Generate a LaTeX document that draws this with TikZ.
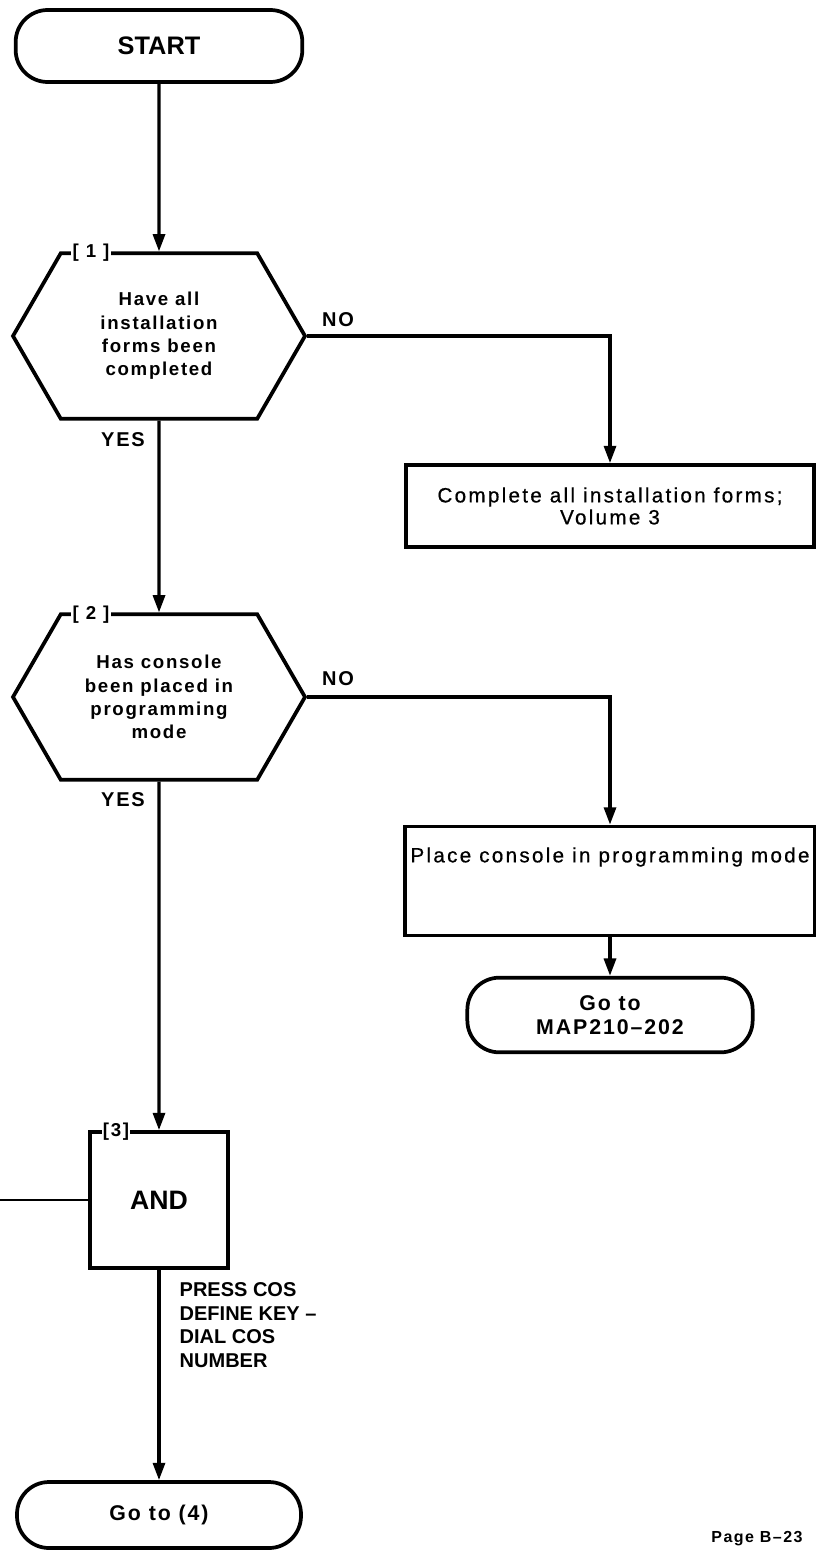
\documentclass[tikz,border=0pt]{standalone}
\usepackage{fontspec}
\setmainfont{Liberation Sans}
\newfontfamily\spaced{Liberation Sans}[LetterSpace=9]
\newfontfamily\plain{Liberation Sans}[LetterSpace=11,FakeBold=0.6]
\usetikzlibrary{arrows.meta,shapes.symbols}
\begin{document}
\begin{tikzpicture}[x=0.75pt,y=-0.75pt,
  term/.style={draw,line width=2.8pt,rounded corners=24pt,inner sep=0pt,align=center,font=\spaced\bfseries\fontsize{16}{18}\selectfont},
  hexa/.style={draw,line width=2.8pt,signal,signal to=east and west,signal pointer angle=120,minimum width=219pt,minimum height=124pt,inner sep=0pt,align=center,font=\spaced\bfseries\fontsize{14}{17.5}\selectfont},
  stepbox/.style={draw,line width=2.8pt,inner sep=0pt,align=center,font=\plain\fontsize{15.5}{16.5}\selectfont},
  tag/.style={fill=white,inner sep=1pt,font=\spaced\bfseries\fontsize{14}{14}\selectfont},
  lbl/.style={font=\spaced\bfseries\fontsize{15}{17.6}\selectfont},
  conn/.style={line width=2.4pt,-{Triangle[length=13pt,width=9pt]}}]
\useasboundingbox (0,0) rectangle (816,1553);
\node[term,minimum width=215pt,minimum height=54pt,font=\bfseries\fontsize{19}{20}\selectfont] (start) at (159,46) {START};
\node[hexa] (q1) at (159,336) {Have all\\installation\\forms been\\completed};
\node[tag] (t1) at (91,253) {[ 1 ]};
\node[stepbox,minimum width=306pt,minimum height=61.5pt] (fill) at (610,506) {Complete all installation forms;\\Volume 3};
\node[hexa] (q2) at (159,697) {Has console\\been placed in\\programming\\mode};
\node[tag] (t2) at (91,615) {[ 2 ]};
\node[stepbox,minimum width=307pt,minimum height=81.75pt,text height=10pt,text depth=38pt] (mode) at (610,881) {Place console in programming mode};
\node[term,minimum width=214pt,minimum height=56pt] (map) at (610,1015) {Go to\\MAP210–202};
\node[draw,line width=2.8pt,minimum width=103pt,minimum height=102pt,font=\bfseries\fontsize{20}{20}\selectfont] (and) at (159,1200) {AND};
\node[tag] (t3) at (116,1132) {[3]};
\node[term,minimum width=213pt,minimum height=49.5pt] (next) at (159,1515) {Go to (4)};
\coordinate (feed) at (0,1200);
\draw[conn] (start) -- (q1);
\draw[conn] (q1.east) -| (fill);
\node[lbl] (no1) at (338,320) {NO};
\node[lbl] (yes1) at (123,440) {YES};
\draw[conn] (q1) -- (q2);
\draw[conn] (q2.east) -| (mode);
\node[lbl] (no2) at (338,679) {NO};
\node[lbl] (yes2) at (123,800) {YES};
\draw[conn] (mode) -- (map);
\draw[conn] (q2) -- (and);
\draw[line width=1.6pt] (feed) -- (and);
\draw[conn] (and) -- (next);
\node[lbl,align=left,anchor=north west,font=\bfseries\fontsize{15}{17.6}\selectfont] (press) at (175,1278) {PRESS COS\\DEFINE KEY –\\DIAL COS\\NUMBER};
\node[font=\spaced\bfseries\fontsize{12}{14}\selectfont] (page) at (757,1539) {Page B–23};
\end{tikzpicture}
\end{document}
